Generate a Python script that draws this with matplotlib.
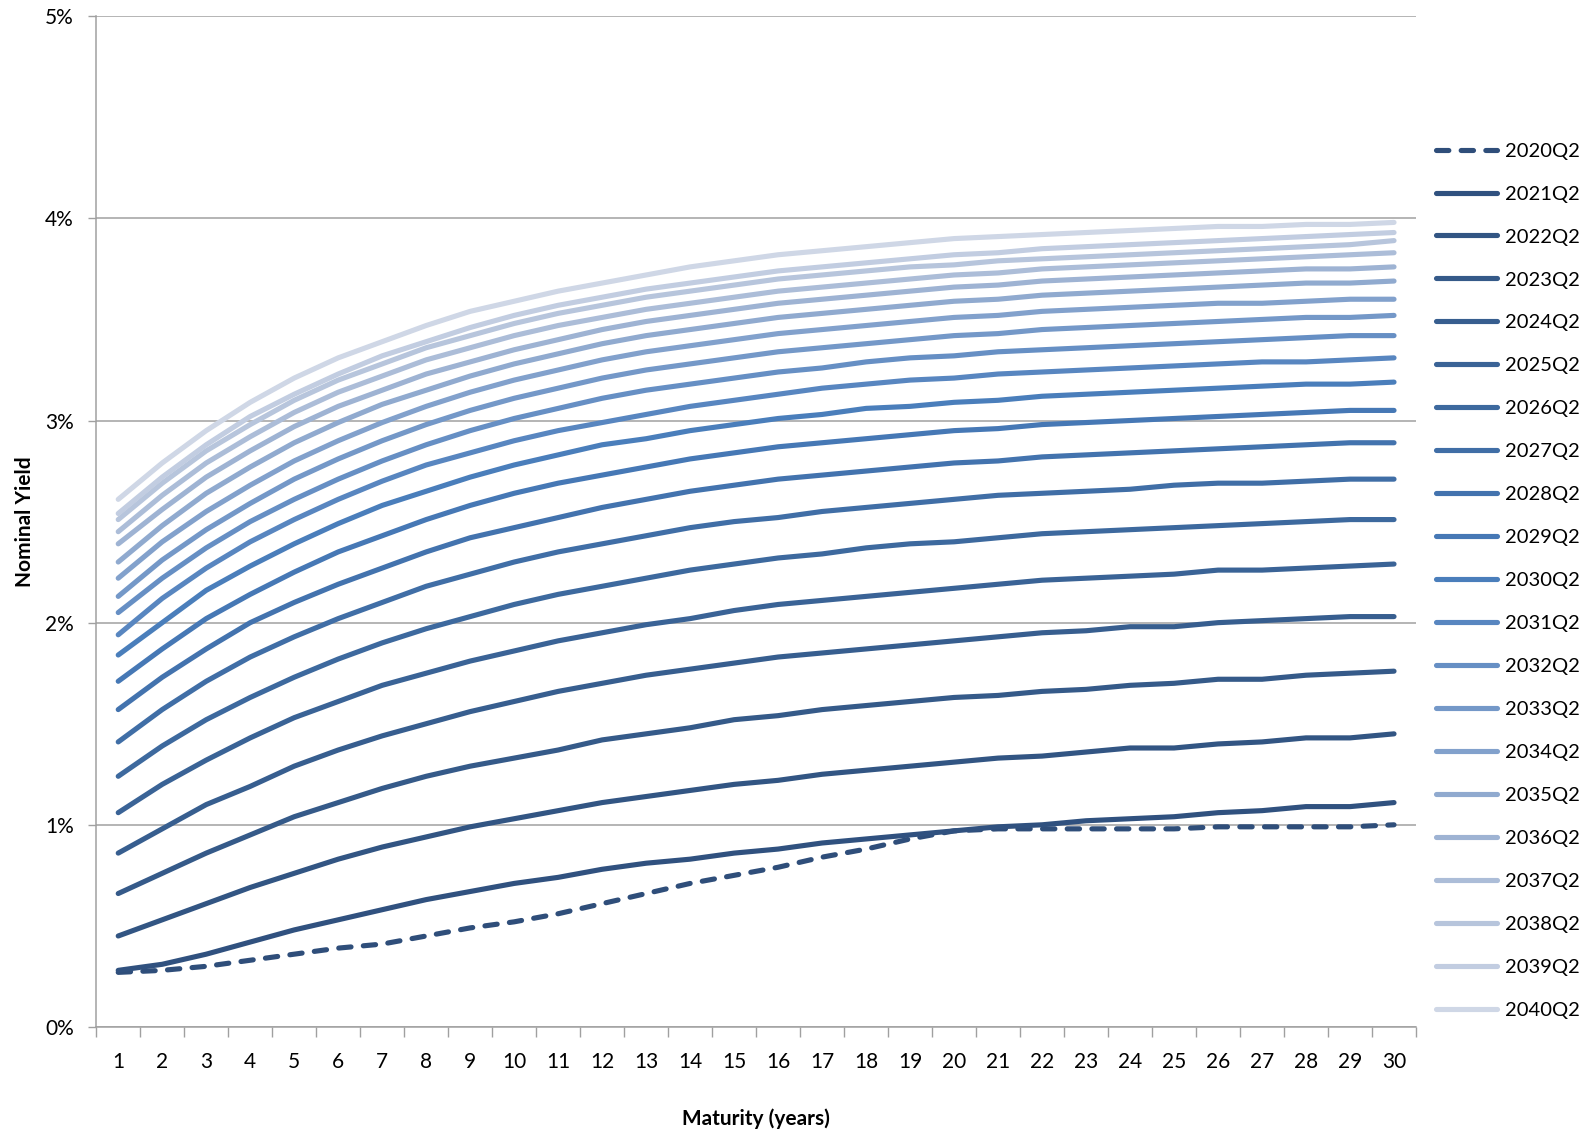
import matplotlib
matplotlib.use("Agg")
import matplotlib.pyplot as plt
from matplotlib.ticker import FixedLocator, PercentFormatter

plt.rcParams['font.family'] = ['Lato', 'DejaVu Sans']

maturities = list(range(1, 31))
vintages = ["2020Q2", "2021Q2", "2022Q2", "2023Q2", "2024Q2", "2025Q2", "2026Q2",
            "2027Q2", "2028Q2", "2029Q2", "2030Q2", "2031Q2", "2032Q2", "2033Q2",
            "2034Q2", "2035Q2", "2036Q2", "2037Q2", "2038Q2", "2039Q2", "2040Q2"]

# yields in percent, maturities 1..30
y2020 = [0.27, 0.28, 0.30, 0.33, 0.36, 0.39, 0.41, 0.45, 0.49, 0.52, 0.56, 0.61, 0.66, 0.71, 0.75,
         0.79, 0.84, 0.88, 0.93, 0.97, 0.98, 0.98, 0.98, 0.98, 0.98, 0.99, 0.99, 0.99, 0.99, 1.00]
y2021 = [0.28, 0.31, 0.36, 0.42, 0.48, 0.53, 0.58, 0.63, 0.67, 0.71, 0.74, 0.78, 0.81, 0.83, 0.86,
         0.88, 0.91, 0.93, 0.95, 0.97, 0.99, 1.00, 1.02, 1.03, 1.04, 1.06, 1.07, 1.09, 1.09, 1.11]
y2022 = [0.45, 0.53, 0.61, 0.69, 0.76, 0.83, 0.89, 0.94, 0.99, 1.03, 1.07, 1.11, 1.14, 1.17, 1.20,
         1.22, 1.25, 1.27, 1.29, 1.31, 1.33, 1.34, 1.36, 1.38, 1.38, 1.40, 1.41, 1.43, 1.43, 1.45]
y2023 = [0.66, 0.76, 0.86, 0.95, 1.04, 1.11, 1.18, 1.24, 1.29, 1.33, 1.37, 1.42, 1.45, 1.48, 1.52,
         1.54, 1.57, 1.59, 1.61, 1.63, 1.64, 1.66, 1.67, 1.69, 1.70, 1.72, 1.72, 1.74, 1.75, 1.76]
y2024 = [0.86, 0.98, 1.10, 1.19, 1.29, 1.37, 1.44, 1.50, 1.56, 1.61, 1.66, 1.70, 1.74, 1.77, 1.80,
         1.83, 1.85, 1.87, 1.89, 1.91, 1.93, 1.95, 1.96, 1.98, 1.98, 2.00, 2.01, 2.02, 2.03, 2.03]
y2025 = [1.06, 1.20, 1.32, 1.43, 1.53, 1.61, 1.69, 1.75, 1.81, 1.86, 1.91, 1.95, 1.99, 2.02, 2.06,
         2.09, 2.11, 2.13, 2.15, 2.17, 2.19, 2.21, 2.22, 2.23, 2.24, 2.26, 2.26, 2.27, 2.28, 2.29]
y2026 = [1.24, 1.39, 1.52, 1.63, 1.73, 1.82, 1.90, 1.97, 2.03, 2.09, 2.14, 2.18, 2.22, 2.26, 2.29,
         2.32, 2.34, 2.37, 2.39, 2.40, 2.42, 2.44, 2.45, 2.46, 2.47, 2.48, 2.49, 2.50, 2.51, 2.51]
y2027 = [1.41, 1.57, 1.71, 1.83, 1.93, 2.02, 2.10, 2.18, 2.24, 2.30, 2.35, 2.39, 2.43, 2.47, 2.50,
         2.52, 2.55, 2.57, 2.59, 2.61, 2.63, 2.64, 2.65, 2.66, 2.68, 2.69, 2.69, 2.70, 2.71, 2.71]
y2028 = [1.57, 1.73, 1.87, 2.00, 2.10, 2.19, 2.27, 2.35, 2.42, 2.47, 2.52, 2.57, 2.61, 2.65, 2.68,
         2.71, 2.73, 2.75, 2.77, 2.79, 2.80, 2.82, 2.83, 2.84, 2.85, 2.86, 2.87, 2.88, 2.89, 2.89]
y2029 = [1.71, 1.87, 2.02, 2.14, 2.25, 2.35, 2.43, 2.51, 2.58, 2.64, 2.69, 2.73, 2.77, 2.81, 2.84,
         2.87, 2.89, 2.91, 2.93, 2.95, 2.96, 2.98, 2.99, 3.00, 3.01, 3.02, 3.03, 3.04, 3.05, 3.05]
y2030 = [1.84, 2.00, 2.16, 2.28, 2.39, 2.49, 2.58, 2.65, 2.72, 2.78, 2.83, 2.88, 2.91, 2.95, 2.98,
         3.01, 3.03, 3.06, 3.07, 3.09, 3.10, 3.12, 3.13, 3.14, 3.15, 3.16, 3.17, 3.18, 3.18, 3.19]
y2031 = [1.94, 2.12, 2.27, 2.40, 2.51, 2.61, 2.70, 2.78, 2.84, 2.90, 2.95, 2.99, 3.03, 3.07, 3.10,
         3.13, 3.16, 3.18, 3.20, 3.21, 3.23, 3.24, 3.25, 3.26, 3.27, 3.28, 3.29, 3.29, 3.30, 3.31]
y2032 = [2.05, 2.22, 2.37, 2.50, 2.61, 2.71, 2.80, 2.88, 2.95, 3.01, 3.06, 3.11, 3.15, 3.18, 3.21,
         3.24, 3.26, 3.29, 3.31, 3.32, 3.34, 3.35, 3.36, 3.37, 3.38, 3.39, 3.40, 3.41, 3.42, 3.42]
y2033 = [2.13, 2.31, 2.46, 2.59, 2.71, 2.81, 2.90, 2.98, 3.05, 3.11, 3.16, 3.21, 3.25, 3.28, 3.31,
         3.34, 3.36, 3.38, 3.40, 3.42, 3.43, 3.45, 3.46, 3.47, 3.48, 3.49, 3.50, 3.51, 3.51, 3.52]
y2034 = [2.22, 2.40, 2.55, 2.68, 2.80, 2.90, 2.99, 3.07, 3.14, 3.20, 3.25, 3.30, 3.34, 3.37, 3.40,
         3.43, 3.45, 3.47, 3.49, 3.51, 3.52, 3.54, 3.55, 3.56, 3.57, 3.58, 3.58, 3.59, 3.60, 3.60]
y2035 = [2.30, 2.48, 2.64, 2.77, 2.89, 2.99, 3.08, 3.15, 3.22, 3.28, 3.33, 3.38, 3.42, 3.45, 3.48,
         3.51, 3.53, 3.55, 3.57, 3.59, 3.60, 3.62, 3.63, 3.64, 3.65, 3.66, 3.67, 3.68, 3.68, 3.69]
y2036 = [2.39, 2.56, 2.72, 2.85, 2.97, 3.07, 3.15, 3.23, 3.29, 3.35, 3.40, 3.45, 3.49, 3.52, 3.55,
         3.58, 3.60, 3.62, 3.64, 3.66, 3.67, 3.69, 3.70, 3.71, 3.72, 3.73, 3.74, 3.75, 3.75, 3.76]
y2037 = [2.45, 2.63, 2.79, 2.92, 3.04, 3.14, 3.22, 3.30, 3.36, 3.42, 3.47, 3.51, 3.55, 3.58, 3.61,
         3.64, 3.66, 3.68, 3.70, 3.72, 3.73, 3.75, 3.76, 3.77, 3.78, 3.79, 3.80, 3.81, 3.82, 3.83]
y2038 = [2.51, 2.69, 2.85, 2.98, 3.10, 3.20, 3.28, 3.36, 3.42, 3.48, 3.53, 3.57, 3.61, 3.64, 3.67,
         3.70, 3.72, 3.74, 3.76, 3.77, 3.79, 3.80, 3.81, 3.82, 3.83, 3.84, 3.85, 3.86, 3.87, 3.89]
y2039 = [2.54, 2.72, 2.88, 3.02, 3.13, 3.23, 3.32, 3.39, 3.46, 3.52, 3.57, 3.61, 3.65, 3.68, 3.71,
         3.74, 3.76, 3.78, 3.80, 3.82, 3.83, 3.85, 3.86, 3.87, 3.88, 3.89, 3.90, 3.91, 3.92, 3.93]
y2040 = [2.61, 2.79, 2.95, 3.09, 3.21, 3.31, 3.39, 3.47, 3.54, 3.59, 3.64, 3.68, 3.72, 3.76, 3.79,
         3.82, 3.84, 3.86, 3.88, 3.90, 3.91, 3.92, 3.93, 3.94, 3.95, 3.96, 3.96, 3.97, 3.97, 3.98]

curves = [y2020, y2021, y2022, y2023, y2024, y2025, y2026, y2027, y2028, y2029, y2030,
          y2031, y2032, y2033, y2034, y2035, y2036, y2037, y2038, y2039, y2040]

colors = ["#2F4E7A", "#30517F", "#325583", "#355A89", "#375E8F", "#3A6396", "#3D699E",
          "#406EA6", "#4373AE", "#4678B5", "#4A7EBB", "#5886C0", "#668FC4", "#7498C8",
          "#82A1CC", "#90AACF", "#9EB3D3", "#ACBDD8", "#B7C5DC", "#C2CDE1", "#CFD7E6"]

fig = plt.figure(figsize=(15.88, 11.35), dpi=100)
ax = fig.add_axes([0.0606, 0.0952, 0.8311, 0.8905])

for name, vals, col in zip(vintages, curves, colors):
    if name == "2020Q2":
        ax.plot(maturities, vals, color=col, lw=3.7, ls=(0, (2.4, 2.4)),
                dash_capstyle='round', label=name)
    else:
        ax.plot(maturities, vals, color=col, lw=3.7, solid_capstyle='round', label=name)

ax.set_xlim(0.5, 30.5)
ax.set_ylim(0, 5)
ax.set_xticks(maturities)
ax.xaxis.set_minor_locator(FixedLocator([m - 0.5 for m in maturities] + [30.5]))
ax.tick_params(axis='x', which='major', length=0, pad=18, labelsize=15)
ax.tick_params(axis='x', which='minor', length=7, color='#A0A0A0', width=1)
ax.set_yticks([0, 1, 2, 3, 4, 5])
ax.yaxis.set_major_formatter(PercentFormatter(decimals=0))
ax.tick_params(axis='y', length=6, color='#A0A0A0', width=1, pad=10, labelsize=15)
ax.grid(axis='y', color='#A0A0A0', lw=1.1)
ax.set_axisbelow(True)
for s in ['top', 'right']:
    ax.spines[s].set_visible(False)
for s in ['left', 'bottom']:
    ax.spines[s].set_color('#A0A0A0')
    ax.spines[s].set_linewidth(1.1)

ax.set_xlabel("Maturity (years)", fontsize=15, fontweight='bold', va='center')
ax.xaxis.set_label_coords(0.5, -0.091)
ax.set_ylabel("Nominal Yield", fontsize=15, fontweight='bold', va='center')
ax.yaxis.set_label_coords(-0.054, 0.5)

leg = ax.legend(loc='upper left', bbox_to_anchor=(1.0, 0.895), frameon=False, fontsize=14.5,
                handlelength=3.0, handletextpad=0.4, labelspacing=1.285, borderaxespad=0.6)

fig.savefig("out.png", dpi=100)
